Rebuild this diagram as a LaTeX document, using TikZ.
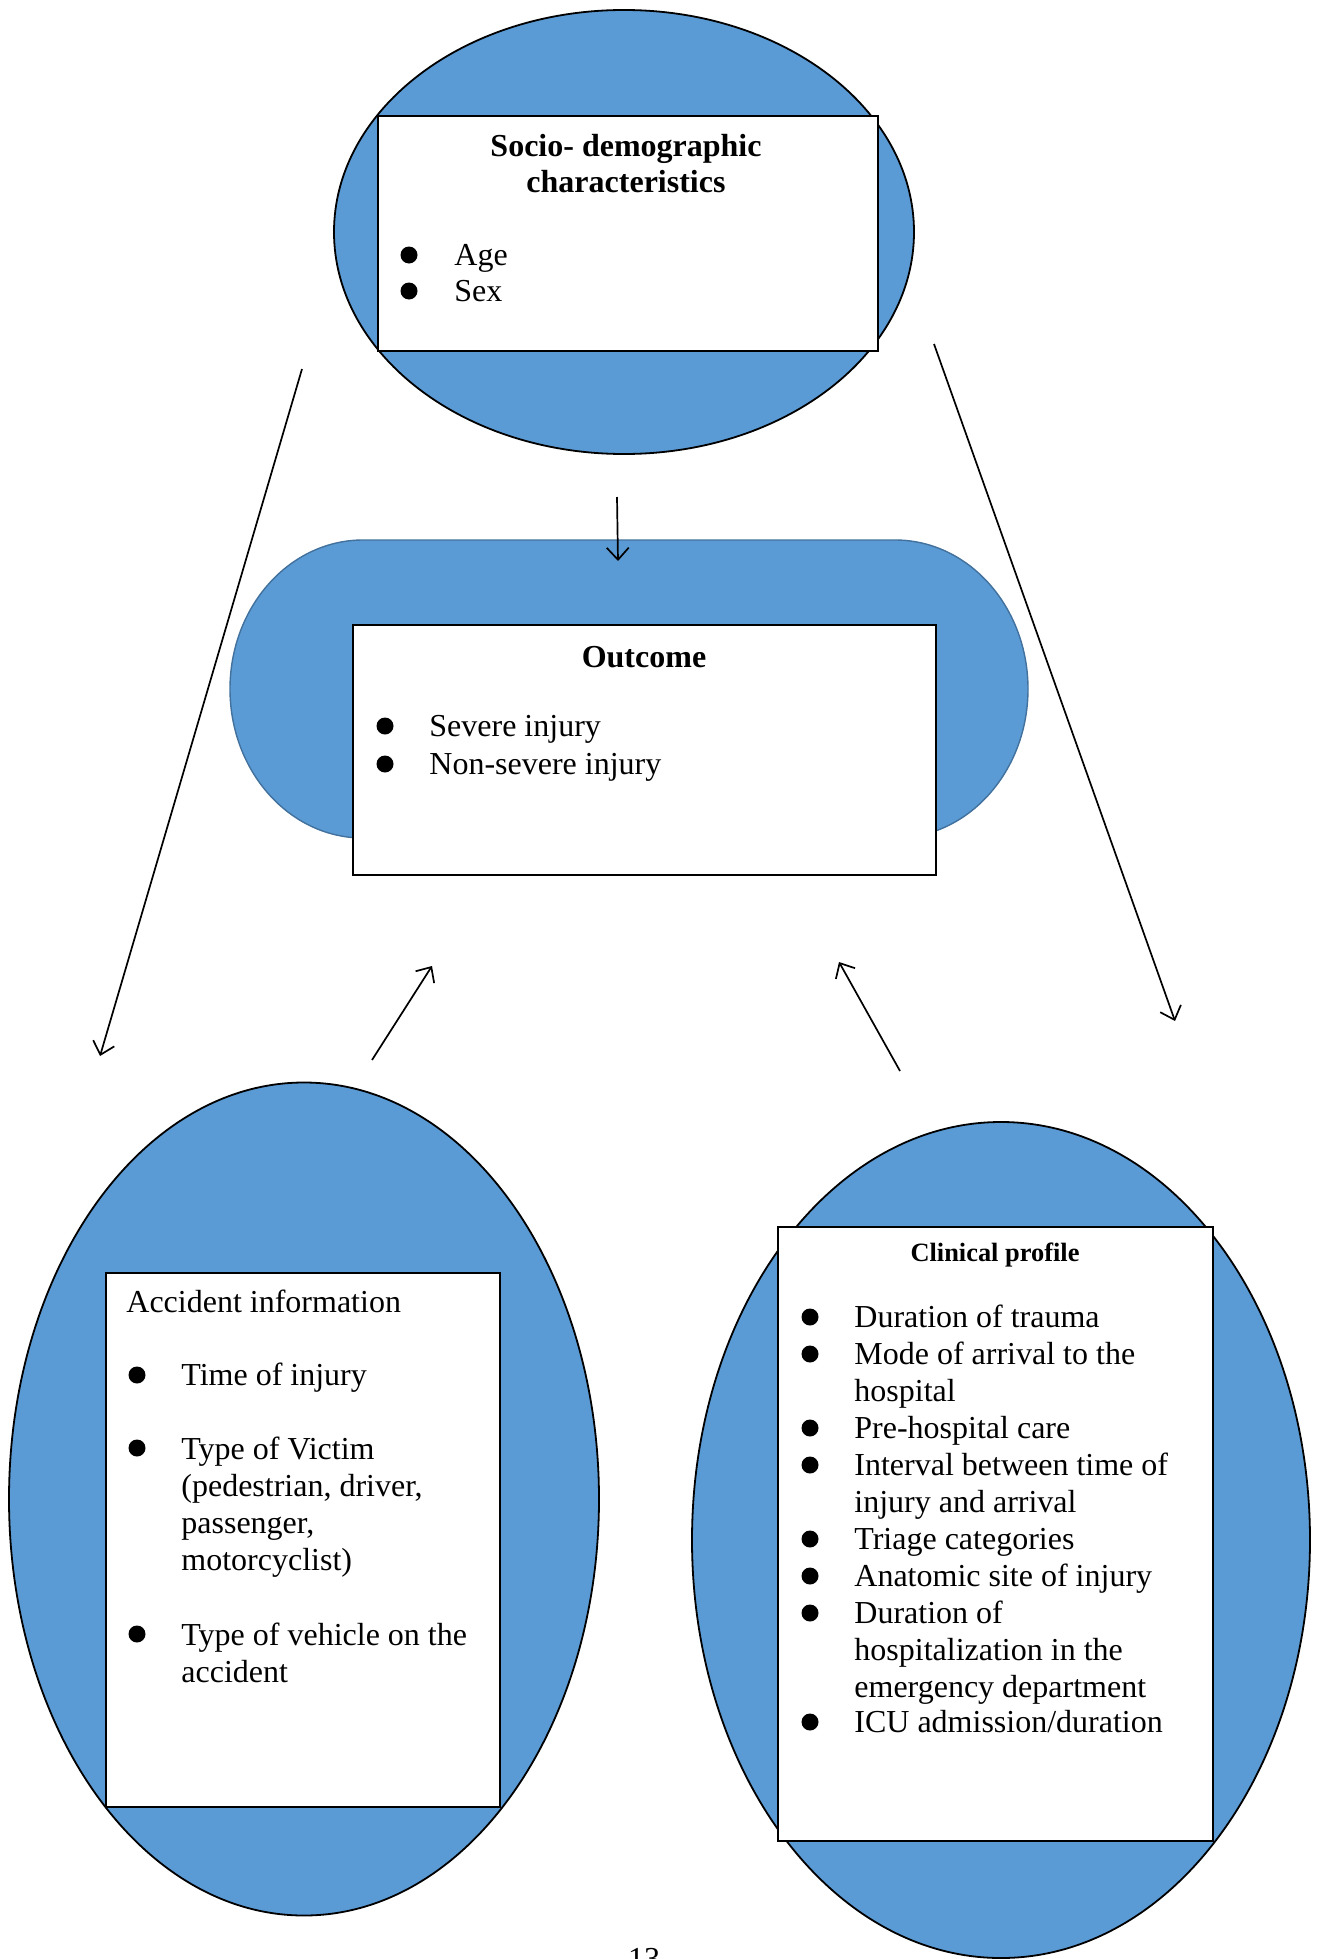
\documentclass[tikz,border=0pt]{standalone}
\usepackage{fontspec}
\setmainfont{Liberation Serif}
\usetikzlibrary{shapes.geometric,arrows.meta}
\definecolor{fillblue}{HTML}{5B9BD5}
\definecolor{edgeblue}{HTML}{41719C}
\begin{document}
\begin{tikzpicture}[x=0.5pt,y=-0.5pt,
  oval/.style={ellipse, draw=black, line width=0.9pt, fill=fillblue, inner sep=0},
  whitebox/.style={rectangle, draw=black, line width=0.9pt, fill=white, inner sep=0, anchor=north west},
  txt/.style={anchor=base west, inner sep=0, font=\fontsize{16}{18.5}\selectfont},
  ttl/.style={anchor=base, inner sep=0, font=\fontsize{16}{18.5}\selectfont\bfseries},
  bul/.style={circle, fill=black, inner sep=0, minimum size=8.5pt},
  link/.style={line width=0.85pt, -{Straight Barb[length=6pt,width=11pt]}}]
\useasboundingbox[fill=white] (0,0) rectangle (1317,1959);

% ---- top: socio-demographic
\node[oval, minimum width=290pt, minimum height=222pt] (topoval) at (624,232) {};
\node[whitebox, minimum width=250pt, minimum height=117.5pt] (topbox) at (377,115) {};
\node[ttl] (t1) at (626,156) {Socio- demographic};
\node[ttl] (t2) at (626,192) {characteristics};
\node[bul] (b1) at (409,255) {};
\node[txt] (age) at (454,265) {Age};
\node[bul] (b2) at (409,291) {};
\node[txt] (sex) at (454,301) {Sex};

% ---- middle: outcome
\draw[fill=fillblue, draw=edgeblue, line width=0.7pt]
  (363,540) -- (895,540)
  arc[start angle=90, end angle=-90, x radius=66.5pt, y radius=74.5pt]
  -- (363,838)
  arc[start angle=270, end angle=90, x radius=66.5pt, y radius=74.5pt] -- cycle;
\coordinate (stadium) at (629,689);
\node[whitebox, minimum width=291.5pt, minimum height=125pt] (outbox) at (352,624) {};
\node[ttl] (o1) at (644,667) {Outcome};
\node[bul] (ob1) at (385,726) {};
\node[txt] (sev) at (429,736) {Severe injury};
\node[bul] (ob2) at (385,764) {};
\node[txt] (nsev) at (429,774) {Non-severe injury};

% ---- bottom left: accident information
\node[oval, minimum width=295pt, minimum height=416.5pt] (leftoval) at (304,1499) {};
\node[whitebox, minimum width=197pt, minimum height=267pt] (leftbox) at (105,1272) {};
\node[txt] (a0) at (126,1312) {Accident information};
\node[bul] (lb1) at (137,1375) {};
\node[txt] (a1) at (181,1385) {Time of injury};
\node[bul] (lb2) at (137,1448) {};
\node[txt] (a2) at (181,1459) {Type of Victim};
\node[txt] (a3) at (181,1496) {(pedestrian, driver,};
\node[txt] (a4) at (181,1533) {passenger,};
\node[txt] (a5) at (181,1570) {motorcyclist)};
\node[bul] (lb3) at (137,1634) {};
\node[txt] (a6) at (181,1645) {Type of vehicle on the};
\node[txt] (a7) at (181,1682) {accident};

% ---- bottom right: clinical profile
\node[oval, minimum width=309pt, minimum height=418pt] (rightoval) at (1001,1540) {};
\node[whitebox, minimum width=217.5pt, minimum height=307pt] (rightbox) at (777,1226) {};
\node[anchor=base, inner sep=0, font=\fontsize{13.2}{16}\selectfont\bfseries] (c0) at (995,1261) {Clinical profile};
\node[bul] (rb1) at (810,1317) {};
\node[txt] (c1) at (854,1327) {Duration of trauma};
\node[bul] (rb2) at (810,1354) {};
\node[txt] (c2) at (854,1364) {Mode of arrival to the};
\node[txt] (c3) at (854,1401) {hospital};
\node[bul] (rb3) at (810,1428) {};
\node[txt] (c4) at (854,1438) {Pre-hospital care};
\node[bul] (rb4) at (810,1465) {};
\node[txt] (c5) at (854,1475) {Interval between time of};
\node[txt] (c6) at (854,1512) {injury and arrival};
\node[bul] (rb5) at (810,1539) {};
\node[txt] (c7) at (854,1549) {Triage categories};
\node[bul] (rb6) at (810,1576) {};
\node[txt] (c8) at (854,1586) {Anatomic site of injury};
\node[bul] (rb7) at (810,1613) {};
\node[txt] (c9) at (854,1623) {Duration of};
\node[txt] (c10) at (854,1660) {hospitalization in the};
\node[txt] (c11) at (854,1697) {emergency department};
\node[bul] (rb8) at (810,1722) {};
\node[txt] (c12) at (854,1732) {ICU admission/duration};

% ---- arrows
\coordinate (pA) at (617,497);  \coordinate (pB) at (618,561);
\coordinate (pC) at (302,369);  \coordinate (pD) at (100,1056);
\coordinate (pE) at (934,344);  \coordinate (pF) at (1175,1021);
\coordinate (pG) at (372,1060); \coordinate (pH) at (432,966);
\coordinate (pI) at (900,1071); \coordinate (pJ) at (839,962);
\draw[link] (pA) -- (pB);
\draw[link] (pC) -- (pD);
\draw[link] (pE) -- (pF);
\draw[link] (pG) -- (pH);
\draw[link] (pI) -- (pJ);

% ---- page number (cut by the page edge, as in the reference)
\node[anchor=base, inner sep=0, font=\fontsize{16}{18.5}\selectfont] (pg) at (644,1969) {13};
\end{tikzpicture}
\end{document}
